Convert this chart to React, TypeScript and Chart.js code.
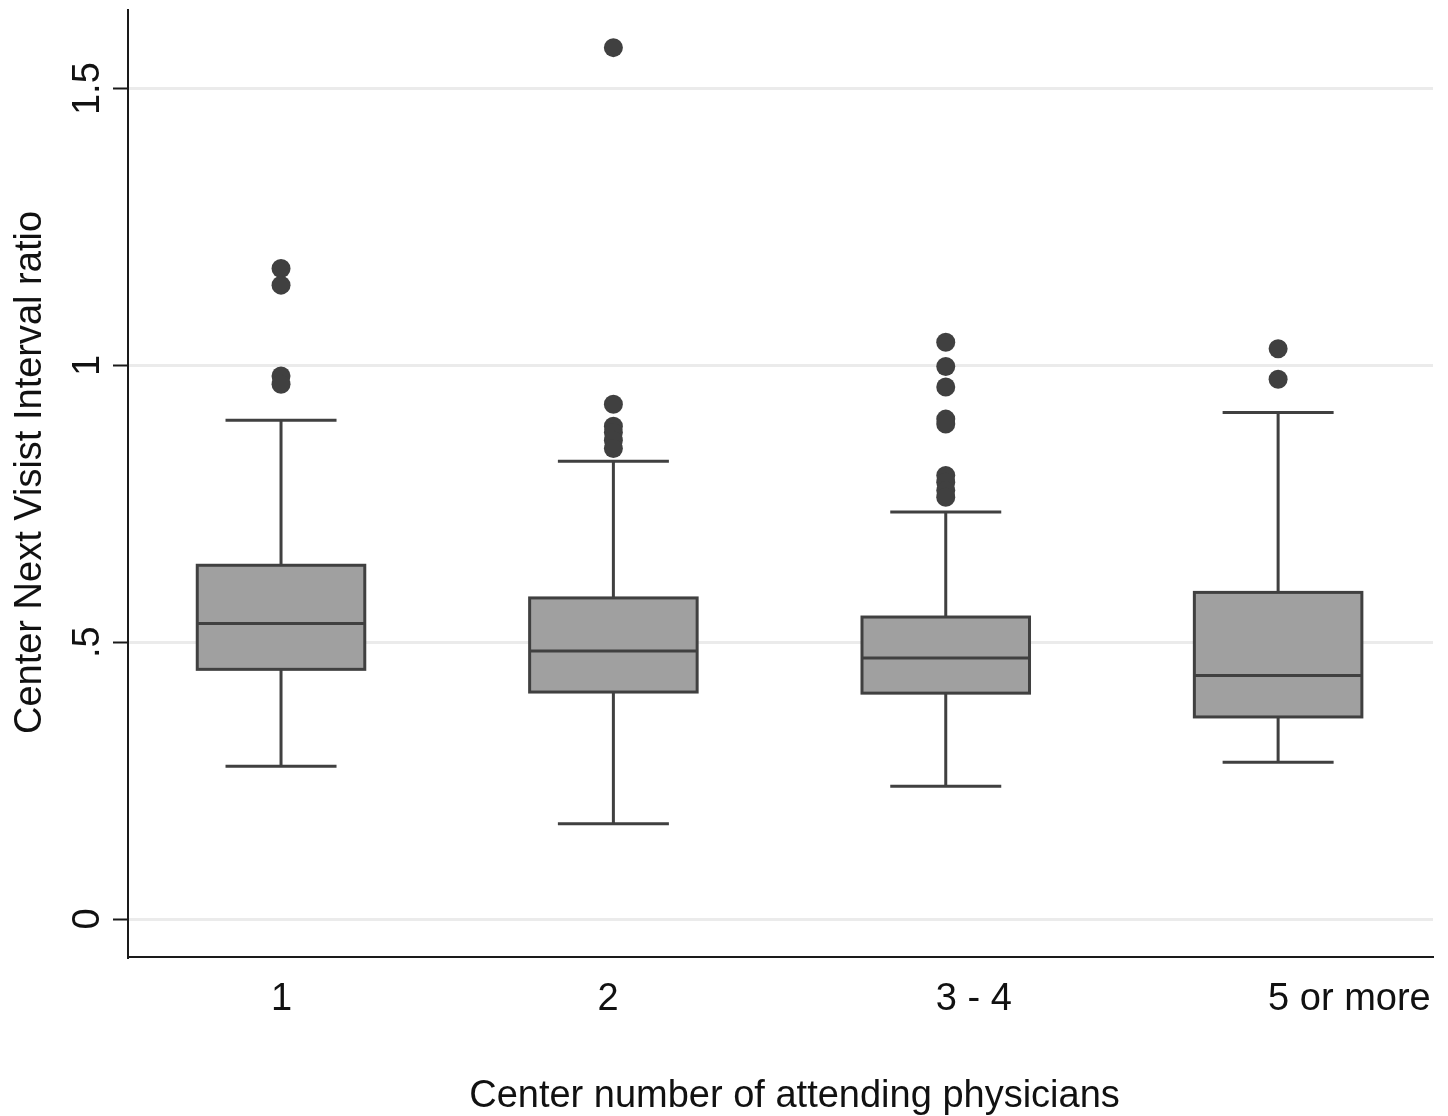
import React, { useEffect, useRef } from "react";
import { Chart, registerables } from "chart.js";

Chart.register(...registerables);

// ---- data ----
const CATEGORIES = ["1", "2", "3 - 4", "5 or more"];
const WHISKER_LOW = [0.276, 0.172, 0.240, 0.283];
const Q1 = [0.451, 0.410, 0.408, 0.365];
const MEDIAN = [0.534, 0.484, 0.4715, 0.440];
const Q3 = [0.639, 0.580, 0.5455, 0.590];
const WHISKER_HIGH = [0.901, 0.827, 0.735, 0.915];
const OUTLIERS_1 = [1.175, 1.145, 0.981, 0.966];
const OUTLIERS_2 = [1.574, 0.930, 0.890, 0.879, 0.865, 0.850];
const OUTLIERS_3 = [1.042, 0.998, 0.961, 0.903, 0.894, 0.801, 0.789, 0.774, 0.762];
const OUTLIERS_4 = [1.030, 0.975];
const OUTLIERS = [OUTLIERS_1, OUTLIERS_2, OUTLIERS_3, OUTLIERS_4];
const Y_TICKS = [0, 0.5, 1, 1.5];
const Y_TICK_LABELS = ["0", ".5", "1", "1.5"];
const X_TITLE = "Center number of attending physicians";
const Y_TITLE = "Center Next Visist Interval ratio";

// ---- style ----
const FONT = '"Liberation Sans", Arial, sans-serif';
const FONT_SIZE = 38;
const DARK = "#404040";
const FILL = "#a0a0a0";
const BOX_HALF = 0.252;
const CAP_HALF = 0.167;

const boxPlugin = {
  id: "boxplot",
  beforeDatasetsDraw(chart: any) {
    const { ctx, scales } = chart;
    const xs = scales.x;
    const ys = scales.y;
    ctx.save();
    ctx.strokeStyle = DARK;
    ctx.lineWidth = 3;
    ctx.lineCap = "butt";
    for (let i = 0; i < CATEGORIES.length; i++) {
      const cx = xs.getPixelForValue(i + 1);
      const bl = xs.getPixelForValue(i + 1 - BOX_HALF);
      const br = xs.getPixelForValue(i + 1 + BOX_HALF);
      const cl = xs.getPixelForValue(i + 1 - CAP_HALF);
      const cr = xs.getPixelForValue(i + 1 + CAP_HALF);
      const yLow = ys.getPixelForValue(WHISKER_LOW[i]);
      const yQ1 = ys.getPixelForValue(Q1[i]);
      const yMed = ys.getPixelForValue(MEDIAN[i]);
      const yQ3 = ys.getPixelForValue(Q3[i]);
      const yHigh = ys.getPixelForValue(WHISKER_HIGH[i]);
      // whiskers
      ctx.beginPath();
      ctx.moveTo(cx, yQ3);
      ctx.lineTo(cx, yHigh);
      ctx.moveTo(cx, yQ1);
      ctx.lineTo(cx, yLow);
      ctx.moveTo(cl, yHigh);
      ctx.lineTo(cr, yHigh);
      ctx.moveTo(cl, yLow);
      ctx.lineTo(cr, yLow);
      ctx.stroke();
      // box
      ctx.fillStyle = FILL;
      ctx.fillRect(bl, yQ3, br - bl, yQ1 - yQ3);
      ctx.strokeRect(bl, yQ3, br - bl, yQ1 - yQ3);
      // median
      ctx.beginPath();
      ctx.moveTo(bl, yMed);
      ctx.lineTo(br, yMed);
      ctx.stroke();
    }
    ctx.restore();
  },
  afterDraw(chart: any) {
    const { ctx, scales, chartArea } = chart;
    const xs = scales.x;
    const ys = scales.y;
    ctx.save();
    ctx.fillStyle = "#111111";
    ctx.font = `${FONT_SIZE}px ${FONT}`;
    // x tick labels
    ctx.textAlign = "left";
    ctx.textBaseline = "alphabetic";
    CATEGORIES.forEach((c, i) => {
      const px = xs.getPixelForValue(i + 1);
      ctx.fillText(c, px - (i === 1 ? 16 : 10), chartArea.bottom + 53);
    });
    // x title
    ctx.textAlign = "center";
    ctx.fillText(X_TITLE, (chartArea.left + chartArea.right) / 2 + 14, chartArea.bottom + 150);
    // y tick labels
    Y_TICKS.forEach((v, i) => {
      const py = ys.getPixelForValue(v);
      ctx.save();
      ctx.translate(chartArea.left - 29, py);
      ctx.rotate(-Math.PI / 2);
      ctx.textAlign = "center";
      ctx.textBaseline = "alphabetic";
      ctx.fillText(Y_TICK_LABELS[i], 0, 0);
      ctx.restore();
    });
    // y title
    ctx.save();
    ctx.translate(41, (chartArea.top + chartArea.bottom) / 2 - 11);
    ctx.rotate(-Math.PI / 2);
    ctx.textAlign = "center";
    ctx.textBaseline = "alphabetic";
    ctx.fillText(Y_TITLE, 0, 0);
    ctx.restore();
    ctx.restore();
  },
};

export default function App() {
  const ref = useRef<HTMLCanvasElement | null>(null);
  useEffect(() => {
    if (!ref.current) return;
    const points = OUTLIERS.flatMap((arr, i) => arr.map((v) => ({ x: i + 1, y: v })));
    const chart = new Chart(ref.current, {
      type: "scatter",
      data: {
        datasets: [
          {
            data: points,
            backgroundColor: DARK,
            borderWidth: 0,
            pointRadius: 9.5,
            pointHoverRadius: 9.5,
          },
        ],
      },
      options: {
        animation: false,
        responsive: false,
        devicePixelRatio: 1,
        events: [],
        layout: { padding: { top: 10, right: 15, left: 0, bottom: 0 } },
        plugins: {
          legend: { display: false },
          tooltip: { enabled: false },
        },
        scales: {
          x: {
            type: "linear",
            min: 0.5396,
            max: 4.466,
            grid: { display: false },
            border: { display: true, color: "#1a1a1a", width: 2 },
            ticks: { display: false },
            afterFit: (s: any) => {
              s.height = 159;
            },
          },
          y: {
            type: "linear",
            min: -0.0686,
            max: 1.642,
            grid: {
              display: true,
              color: "#ebebeb",
              lineWidth: 3,
              drawTicks: true,
              tickLength: 15,
              tickColor: "#1a1a1a",
              tickWidth: 2,
            },
            border: { display: true, color: "#1a1a1a", width: 2 },
            ticks: { display: false },
            afterBuildTicks: (s: any) => {
              s.ticks = Y_TICKS.map((v) => ({ value: v }));
            },
            afterFit: (s: any) => {
              s.width = 128;
            },
          },
        },
      },
      plugins: [boxPlugin],
    });
    return () => chart.destroy();
  }, []);
  return (
    <div style={{ position: "fixed", left: 0, top: 0, width: 1448, height: 1116, background: "#fff" }}>
      <canvas ref={ref} width={1448} height={1116} style={{ display: "block" }} />
    </div>
  );
}
